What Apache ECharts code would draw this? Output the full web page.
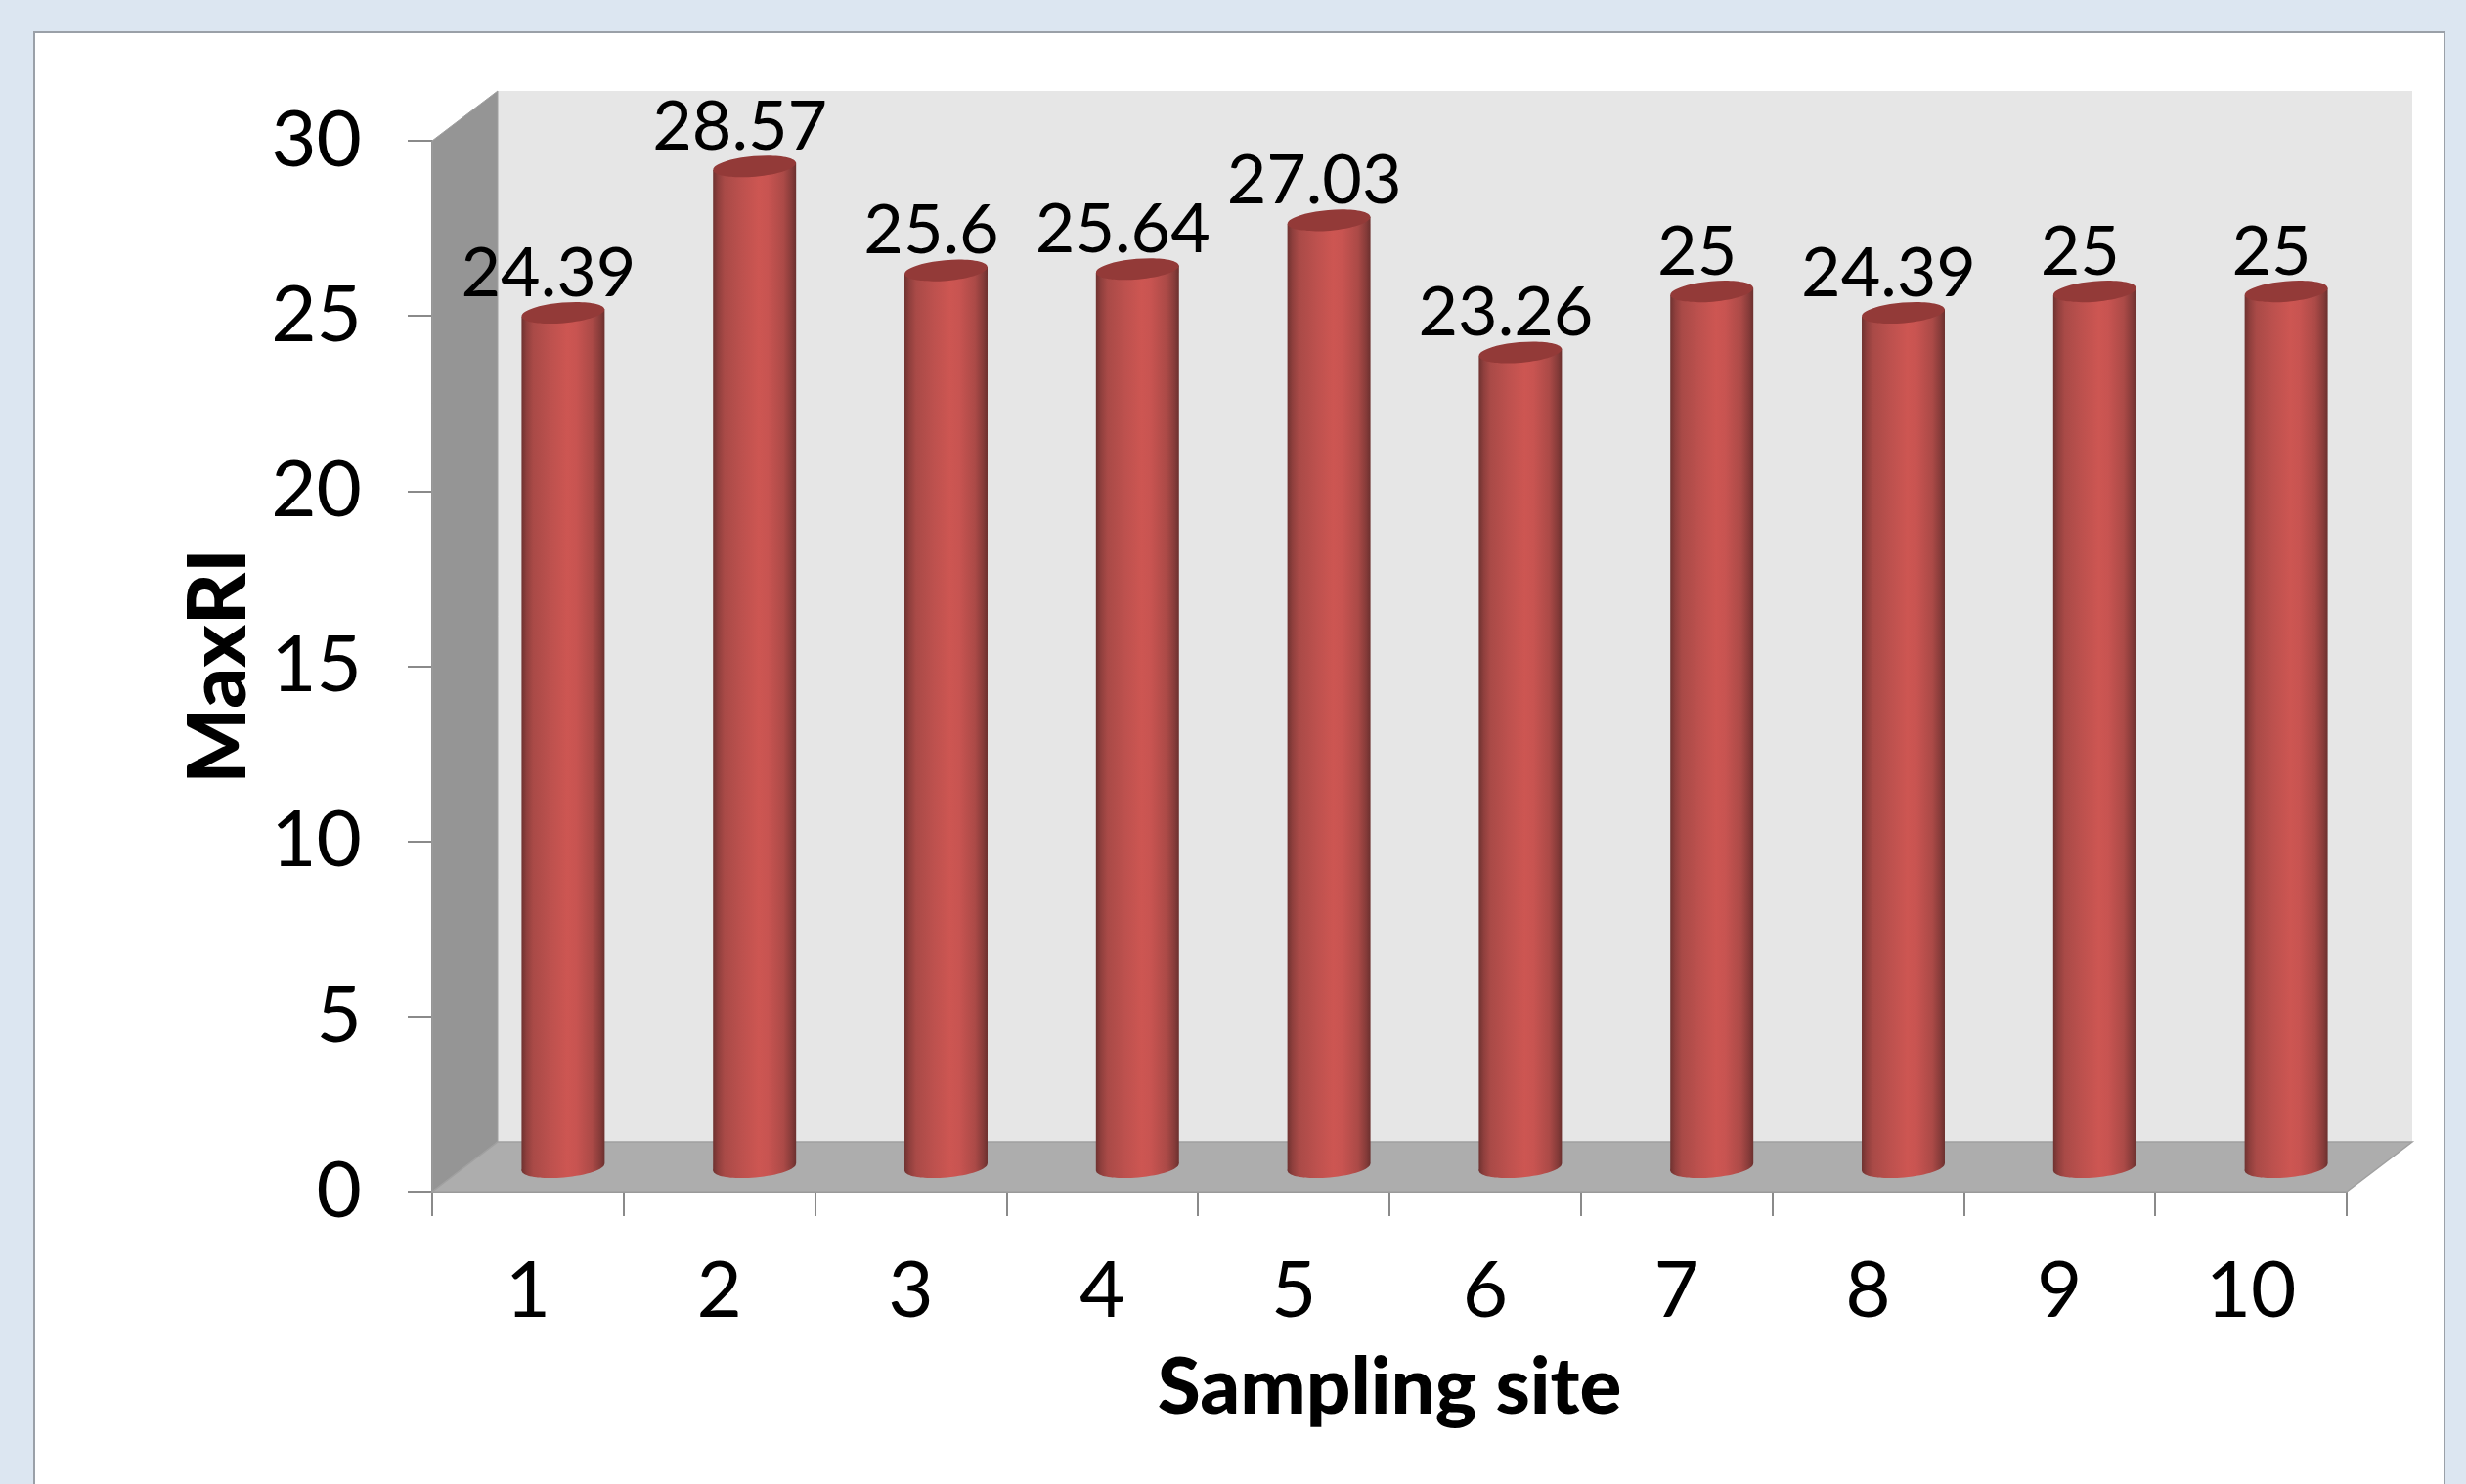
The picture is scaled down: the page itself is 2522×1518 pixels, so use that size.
<!DOCTYPE html>
<html>
<head>
<meta charset="utf-8">
<style>html,body{margin:0;padding:0;background:#dce6f1;overflow:hidden}#c{width:2522px;height:1518px}</style>
<script src="https://cdn.jsdelivr.net/npm/echarts@6/dist/echarts.min.js"></script>
</head>
<body>
<div id="c"></div>
<script>
const categories = ['1','2','3','4','5','6','7','8','9','10'];
const maxRI = [24.39, 28.57, 25.6, 25.64, 27.03, 23.26, 25, 24.39, 25, 25];
const xAxisName = 'Sampling site';
const yAxisName = 'MaxRI';
const FONT = 'Lato';

const chart = echarts.init(document.getElementById('c'));

const bodyGrad = {type:'linear',x:0,y:0,x2:1,y2:0,colorStops:[
  {offset:0,color:'#6f3230'},{offset:0.06,color:'#8f3f3d'},{offset:0.14,color:'#a94a47'},
  {offset:0.35,color:'#bd514e'},{offset:0.55,color:'#cd5652'},{offset:0.66,color:'#c85451'},
  {offset:0.85,color:'#ab4a47'},{offset:0.95,color:'#853b39'},{offset:1,color:'#6b302e'}]};

function renderWalls(params, api){
  const g = params.coordSys;
  const dx = 67, dy = -51;
  const l = g.x, r = g.x + g.width, t = g.y, b = g.y + g.height;
  return {type:'group',silent:true,children:[
    {type:'rect',shape:{x:l+dx,y:t+dy,width:g.width,height:g.height},style:{fill:'#e6e6e6'}},
    {type:'polygon',shape:{points:[[l,t],[l+dx,t+dy],[l+dx,b+dy],[l,b]]},style:{fill:'#959595',stroke:'#a0a0a0',lineWidth:1}},
    {type:'polygon',shape:{points:[[l,b],[r,b],[r+dx,b+dy],[l+dx,b+dy]]},style:{fill:'#adadad',stroke:'#a0a0a0',lineWidth:1.5}}
  ]};
}

function renderBar(params, api){
  const band = api.size([1,0])[0];
  const v = api.value(1);
  const top = api.coord([api.value(0), v]);
  const base = api.coord([api.value(0), 0]);
  const dx = 36, dy = -25;
  const rx = band * 0.217, ry = 10.5, tilt = 0.087;
  const cx = top[0] + dx, ty = top[1] + dy, by = base[1] + dy;
  const lift = rx * Math.sin(tilt);
  return {type:'group',children:[
    {type:'ellipse',shape:{cx:cx,cy:by,rx:rx,ry:ry},originX:cx,originY:by,rotation:tilt,style:{fill:bodyGrad}},
    {type:'polygon',shape:{points:[[cx-rx,ty+lift],[cx+rx,ty-lift],[cx+rx,by-lift],[cx-rx,by+lift]]},style:{fill:bodyGrad}},
    {type:'ellipse',shape:{cx:cx,cy:ty,rx:rx,ry:ry},originX:cx,originY:ty,rotation:tilt,style:{fill:'#933a38'}},
    {type:'text',x:cx-15,y:ty-40,style:{text:String(v),fontFamily:FONT,fontSize:70,fill:'#000',align:'center',verticalAlign:'middle'},z2:10}
  ]};
}

chart.setOption({
  animation:false,
  backgroundColor:'#dce6f1',
  graphic:[{type:'rect',z:-10,silent:true,shape:{x:35,y:33,width:2465,height:1600},style:{fill:'#ffffff',stroke:'#9aa0a8',lineWidth:2}}],
  grid:{left:442,right:122,top:144,bottom:299,containLabel:false},
  xAxis:{type:'category',data:categories,
    name:xAxisName,nameLocation:'middle',nameGap:161,
    nameTextStyle:{fontFamily:FONT,fontSize:80,fontWeight:900,color:'#000'},
    axisLine:{show:true,lineStyle:{color:'#8a8a8a',width:2}},
    axisTick:{show:true,length:25,lineStyle:{color:'#8a8a8a',width:2},alignWithLabel:false},
    axisLabel:{interval:0,margin:62,fontFamily:FONT,fontSize:80,color:'#000'},
    splitLine:{show:false}},
  yAxis:{type:'value',min:0,max:30,interval:5,
    name:yAxisName,nameLocation:'middle',nameGap:176,
    nameTextStyle:{fontFamily:FONT,fontSize:82,fontWeight:900,color:'#000'},
    axisLine:{show:true,lineStyle:{color:'#8a8a8a',width:2}},
    axisTick:{show:true,length:25,lineStyle:{color:'#8a8a8a',width:2}},
    axisLabel:{margin:72,padding:[10,0,0,0],fontFamily:FONT,fontSize:80,color:'#000'},
    splitLine:{show:false}},
  series:[
    {type:'custom',name:'walls',z:1,data:[0],encode:{x:0,y:0},renderItem:renderWalls,silent:true},
    {type:'custom',name:'MaxRI',z:3,data:categories.map((c,i)=>[i,maxRI[i]]),encode:{x:0,y:1},renderItem:renderBar}
  ]
});
</script>
</body>
</html>
